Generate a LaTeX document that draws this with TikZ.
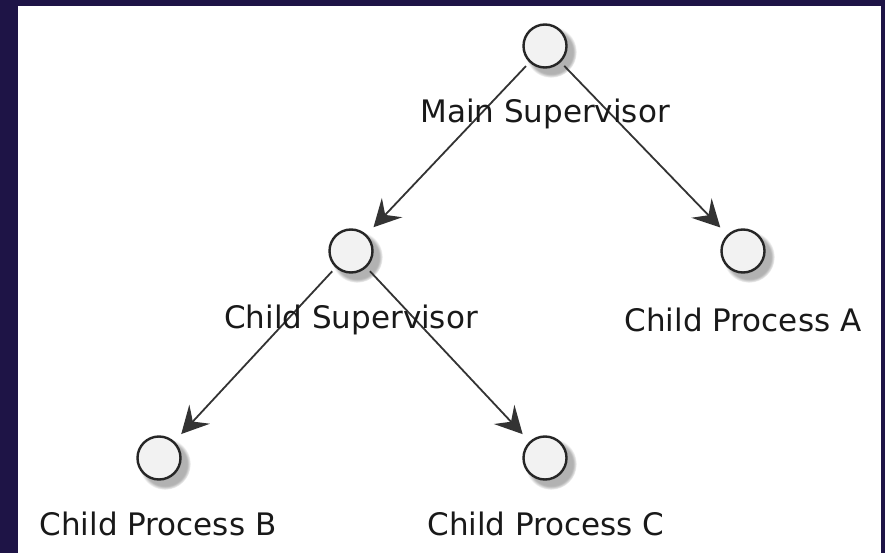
\documentclass[tikz,border=0pt]{standalone}
\usepackage{fontspec}
\setmainfont{DejaVu Sans}
\usetikzlibrary{arrows.meta,shadows,fadings}
\definecolor{frame}{HTML}{1E1446}
\definecolor{nodefill}{HTML}{F2F2F2}
\definecolor{linec}{HTML}{333333}
\tikzset{
  x=1pt,y=-1pt,
  state/.style={circle,draw=black!85,line width=2.4pt,fill=nodefill,minimum size=43pt,inner sep=0pt,
    circular drop shadow={shadow xshift=5pt,shadow yshift=-5pt,shadow scale=1.2,opacity=0.6}},
  lbl/.style={font=\fontsize{31}{34}\selectfont,text=black!90,inner sep=0pt},
  edge/.style={draw=linec,line width=1.8pt,-{Stealth[length=27pt,width=28pt,inset=10pt]},shorten >=10pt,shorten <=5pt}
}
\begin{document}
\begin{tikzpicture}
\fill[frame] (0,0) rectangle (885,553);
\fill[white] (18,6) rectangle (881,553);
\useasboundingbox (0,0) rectangle (885,553);
\node[state] (m) at (545,46) {};
\node[state] (cs) at (351,251) {};
\node[state] (a) at (743,251) {};
\node[state] (b) at (159,458) {};
\node[state] (c) at (545,458) {};
\draw[edge] (m) -- (cs);
\draw[edge] (m) -- (a);
\draw[edge] (cs) -- (b);
\draw[edge] (cs) -- (c);
\node[lbl] (lm) at (545,114) {Main Supervisor};
\node[lbl] (lcs) at (351,320) {Child Supervisor};
\node[lbl] (la) at (743,320) {Child Process A};
\node[lbl] (lb) at (158,524) {Child Process B};
\node[lbl] (lc) at (546,524) {Child Process C};
\end{tikzpicture}
\end{document}
